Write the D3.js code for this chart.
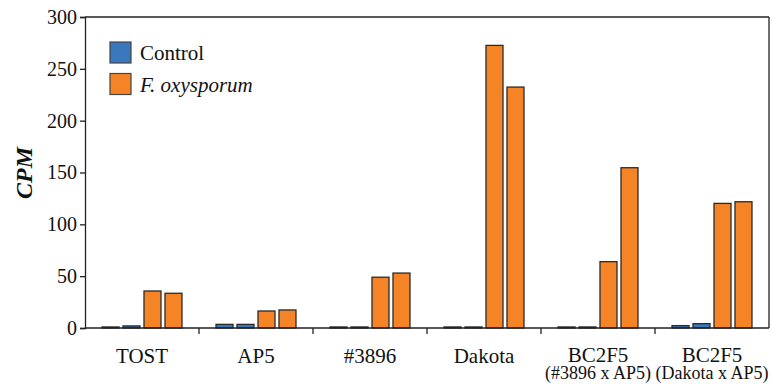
<!DOCTYPE html>
<html>
<head>
<meta charset="utf-8">
<script src="https://cdn.jsdelivr.net/npm/d3@7"></script>
<style>
  body { margin: 0; background: #fff; }
</style>
</head>
<body>
<svg id="chart" width="772" height="384"></svg>
<script>
var categories = ['TOST', 'AP5', '#3896', 'Dakota', 'BC2F5|(#3896 x AP5)', 'BC2F5|(Dakota x AP5)'];
var controlValues = [[1, 2], [3.5, 3.5], [1, 1], [1, 1], [1, 1], [2.3, 4.2]];
var foxValues = [[35.7, 33.5], [16.4, 17.4], [49, 53], [272.6, 232.4], [64, 154.6], [120.2, 121.8]];
var yTicks = [0, 50, 100, 150, 200, 250, 300];
var seriesNames = ['Control', 'F. oxysporum'];
var colors = ['#3a78bd', '#f58426'];
var FONT = '"Liberation Serif", "Times New Roman", serif';

var margin = { top: 17, right: 3, bottom: 56, left: 85 };
var width = 772 - margin.left - margin.right;
var height = 384 - margin.top - margin.bottom;

var svg = d3.select('#chart');
var g = svg.append('g').attr('transform', 'translate(' + margin.left + ',' + margin.top + ')');

var x = d3.scaleBand().domain(categories).range([0, width]).padding(0);
var xInner = d3.scaleBand().domain([0, 1, 2, 3]).range([0, x.bandwidth()])
	.paddingInner(0.19).paddingOuter(0.81);
var y = d3.scaleLinear().domain([0, 300]).range([height, 0]);

// bars
var rows = categories.map(function (c, i) {
	return [
		{ cat: c, k: 0, s: 0, v: controlValues[i][0] },
		{ cat: c, k: 1, s: 0, v: controlValues[i][1] },
		{ cat: c, k: 2, s: 1, v: foxValues[i][0] },
		{ cat: c, k: 3, s: 1, v: foxValues[i][1] }
	];
});
var groups = g.selectAll('g.grp').data(rows).enter()
	.append('g').attr('class', 'grp')
	.attr('transform', function (d, i) { return 'translate(' + x(categories[i]) + ',0)'; });
groups.selectAll('rect').data(function (d) { return d; }).enter()
	.append('rect')
	.attr('x', function (d) { return xInner(d.k); })
	.attr('width', xInner.bandwidth())
	.attr('y', function (d) { return y(d.v); })
	.attr('height', function (d) { return height - y(d.v); })
	.attr('fill', function (d) { return colors[d.s]; })
	.attr('stroke', '#2a2a2a')
	.attr('stroke-width', 1.3);

// frame top and right
g.append('line').attr('x1', 0).attr('x2', width).attr('y1', 0).attr('y2', 0)
	.attr('stroke', '#222').attr('stroke-width', 1.3);
g.append('line').attr('x1', width).attr('x2', width).attr('y1', 0).attr('y2', height)
	.attr('stroke', '#222').attr('stroke-width', 1.3);

// y axis
var yAxis = g.append('g').call(d3.axisLeft(y).tickValues(yTicks).tickSize(5).tickPadding(3));
yAxis.attr('font-family', null);
yAxis.selectAll('text').style('font-family', FONT).style('font-size', '20px').attr('fill', '#111');
yAxis.selectAll('line, path').attr('stroke', '#222').attr('stroke-width', 1.3);

// x axis: ticks at group boundaries
var xAxisG = g.append('g').attr('transform', 'translate(0,' + height + ')');
xAxisG.append('line').attr('x1', 0).attr('x2', width).attr('stroke', '#222').attr('stroke-width', 1.3);
xAxisG.selectAll('line.tk').data(categories.slice(1)).enter()
	.append('line').attr('class', 'tk')
	.attr('x1', function (d) { return x(d); }).attr('x2', function (d) { return x(d); })
	.attr('y1', 0).attr('y2', 6)
	.attr('stroke', '#222').attr('stroke-width', 1.3);
categories.forEach(function (d) {
	var parts = d.split('|');
	var cx = x(d) + x.bandwidth() / 2;
	xAxisG.append('text')
		.attr('x', cx).attr('y', parts[1] ? 33.5 : 35)
		.attr('text-anchor', 'middle')
		.style('font-family', FONT).style('font-size', '21px').attr('fill', '#111')
		.text(parts[0]);
	if (parts[1]) {
		xAxisG.append('text')
			.attr('x', cx).attr('y', 51)
			.attr('text-anchor', 'middle')
			.style('font-family', FONT).style('font-size', '18px').attr('fill', '#111')
			.text(parts[1]);
	}
});

// y label
svg.append('text')
	.attr('transform', 'translate(32,173) rotate(-90)')
	.attr('text-anchor', 'middle')
	.style('font-family', FONT)
	.style('font-size', '24px').style('font-weight', 'bold').style('font-style', 'italic')
	.attr('fill', '#111')
	.text('CPM');

// legend
var legend = svg.append('g').attr('transform', 'translate(110,42)');
var li = legend.selectAll('g').data(seriesNames).enter()
	.append('g').attr('transform', function (d, i) { return 'translate(0,' + (i * 31.5) + ')'; });
li.append('rect').attr('width', 21).attr('height', 21)
	.attr('fill', function (d, i) { return colors[i]; })
	.attr('stroke', '#444').attr('stroke-width', 1.2);
li.append('text').attr('x', 30).attr('y', 18)
	.style('font-family', FONT)
	.style('font-size', '21px').attr('fill', '#111')
	.style('font-style', function (d, i) { return i === 1 ? 'italic' : 'normal'; })
	.text(function (d) { return d; });
</script>
</body>
</html>
